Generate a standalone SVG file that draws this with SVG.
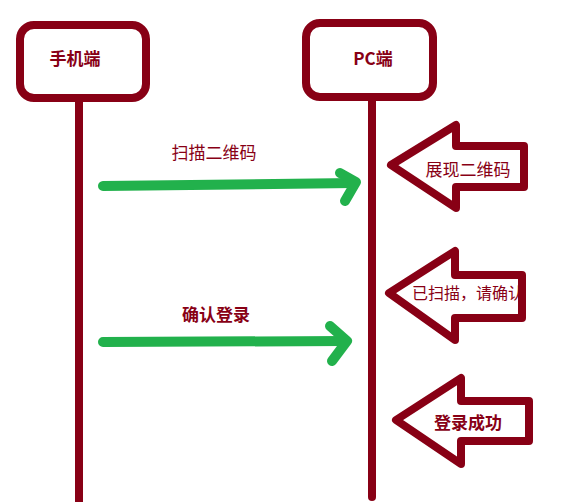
<svg xmlns="http://www.w3.org/2000/svg" width="568" height="502" viewBox="0 0 568 502">
<style>
.box{fill:#fff;stroke:#880015;stroke-width:8}
.life{stroke:#880015;stroke-width:8;stroke-linecap:round;fill:none}
.msg{stroke:#22B14C;stroke-width:10;stroke-linecap:round;stroke-linejoin:round;fill:none}
.shape{fill:#fff;stroke:#880015;stroke-width:8;stroke-linejoin:round}
.t{font-family:"Noto Sans CJK SC","Noto Sans",sans-serif;font-size:17px;fill:#880015;text-anchor:middle}
.b{font-weight:bold}
</style>
<defs>
<clipPath id="clip2"><rect x="380" y="270" width="138" height="50"/></clipPath>
</defs>
<rect width="568" height="502" fill="#fff"/>
<g id="lifelines">
<line class="life" x1="79" y1="100" x2="79" y2="510"/>
<line class="life" x1="372" y1="100" x2="372" y2="497"/>
</g>
<g id="mobile">
<rect class="box" x="20" y="25" width="126" height="73" rx="14"/>
<text class="t b" x="75" y="65">手机端</text>
</g>
<g id="pc">
<rect class="box" x="306" y="23" width="127" height="74" rx="14"/>
<text class="t b" x="373" y="65">PC端</text>
</g>
<g id="connectors">
<path class="msg" d="M103,186 L354,183"/>
<path class="msg" d="M340,173 L356,182 L345,201"/>
<path class="msg" d="M103,342 L345,341"/>
<path class="msg" d="M330,326 L347,341 L332,361"/>
<text class="t" x="214" y="159">扫描二维码</text>
<text class="t b" x="216" y="321">确认登录</text>
</g>
<g id="show-qr">
<path class="shape" d="M391,165 L456,125 L456,146 L524,146 L524,187 L456,187 L456,208 Z"/>
<text class="t" x="468" y="176">展现二维码</text>
</g>
<g id="scanned">
<path class="shape" d="M389,293 L455,251 L455,275 L522,275 L522,318 L455,318 L455,340 Z"/>
<text class="t" x="412" y="299" style="text-anchor:start;font-size:16px" clip-path="url(#clip2)">已扫描，请确认</text>
</g>
<g id="success">
<path class="shape" d="M396,420 L461,378 L461,401 L529,401 L529,441 L461,441 L461,464 Z"/>
<text class="t b" x="468" y="429">登录成功</text>
</g>
</svg>
